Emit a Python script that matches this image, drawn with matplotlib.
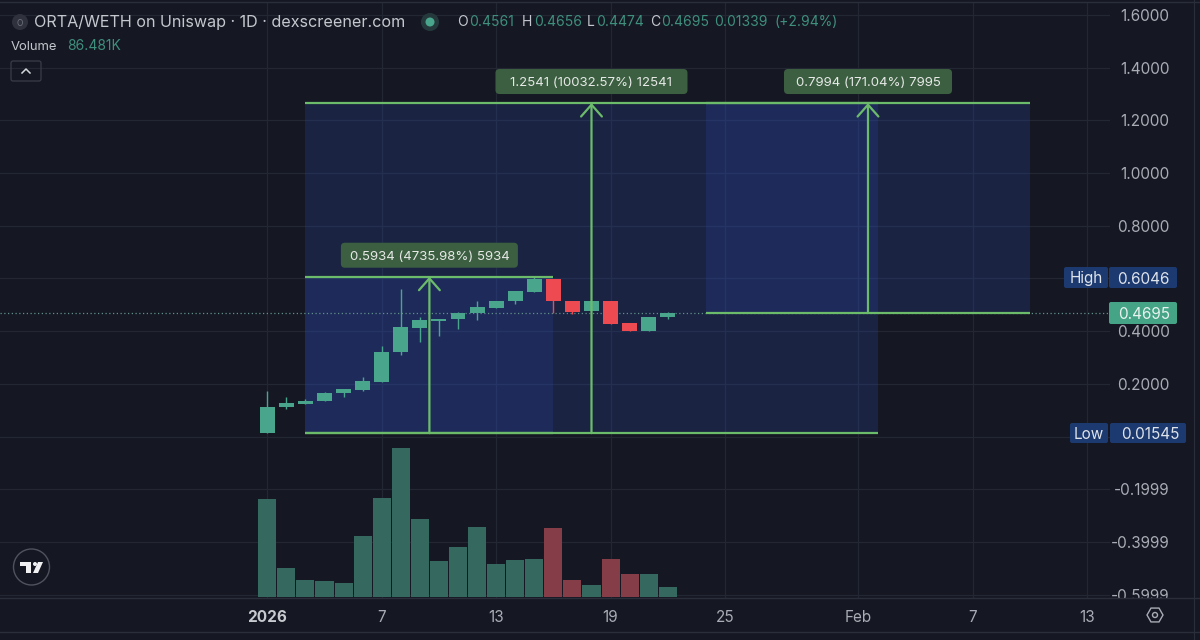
import matplotlib
matplotlib.use("Agg")
import numpy as np
import matplotlib.pyplot as plt
from matplotlib.patches import Circle, FancyBboxPatch, Polygon, RegularPolygon
from matplotlib.transforms import Affine2D, Bbox, IdentityTransform, TransformedBbox

plt.rcParams['font.family'] = ['Inter', 'DejaVu Sans']

# Velas diarias (dia 0 = 1 de enero de 2026)
dias = list(range(22))
aperturas = [0.0154, 0.1114, 0.1240, 0.1342, 0.1645, 0.1784, 0.2087, 0.3200, 0.4135, 0.4388, 0.4464,
             0.4679, 0.4894, 0.5134, 0.5488, 0.5993, 0.5146, 0.4755, 0.5134, 0.4300, 0.3996, 0.4540]
cierres = [0.1140, 0.1266, 0.1367, 0.1658, 0.1797, 0.2113, 0.3212, 0.4160, 0.4413, 0.4477, 0.4691,
           0.4919, 0.5146, 0.5513, 0.5993, 0.5134, 0.4742, 0.5134, 0.4287, 0.3996, 0.4540, 0.4695]
maximos = [0.1733, 0.1493, 0.1430, 0.1708, 0.1797, 0.2277, 0.3440, 0.5589, 0.4552, 0.4477, 0.4716,
           0.5159, 0.5146, 0.5513, 0.6046, 0.5993, 0.5146, 0.5134, 0.5134, 0.4300, 0.4540, 0.4716]
minimos = [0.0154, 0.1051, 0.1240, 0.1342, 0.1519, 0.1721, 0.2087, 0.3111, 0.3592, 0.3819, 0.4097,
           0.4426, 0.4894, 0.5033, 0.5488, 0.4679, 0.4641, 0.4755, 0.4287, 0.3996, 0.3996, 0.4464]
# Volumen en miles
volumen = [874, 259, 146, 140, 125, 540, 883, 1327, 698, 316, 447,
           620, 295, 328, 334, 614, 149, 107, 334, 206, 203, 86.481]
vol_rojo = [False] * 22
for i in [15, 16, 18, 19]:
    vol_rojo[i] = True

# Ejes (0.6 y 0.0 tienen linea pero su etiqueta queda tapada por High y Low)
ticks_precio = [1.6, 1.4, 1.2, 1.0, 0.8, 0.6, 0.4, 0.2, 0.0, -0.1999, -0.3999, -0.5999]
etiquetas_precio = ['1.6000', '1.4000', '1.2000', '1.0000', '0.8000', '', '0.4000', '0.2000', '',
                    '-0.1999', '-0.3999', '-0.5999']
ticks_dias = [0, 6, 12, 18, 24, 31, 37, 43]
etiquetas_dias = ['2026', '7', '13', '19', '25', 'Feb', '7', '13']

# Herramientas de medicion: (dia inicio, dia fin, precio base, precio tope, texto, ancho caja px)
medidas = [
    (2, 15, 0.0135, 0.6067, '0.5934 (4735.98%) 5934', 177),
    (2, 32, 0.0135, 1.2654, '1.2541 (10032.57%) 12541', 192),
    (23, 40, 0.4695, 1.2654, '0.7994 (171.04%) 7995', 168),
]
ultimo_precio = 0.4695

FONDO = '#151822'
GRID = '#232733'
BORDE = '#2a2e3a'
VERDE = '#49a68c'
ROJO = '#ee4a52'
VERDE_VOL = '#35695f'
ROJO_VOL = '#853e48'
LINEA = '#6cbb6b'
CAJA = '#3c5f41'
AZUL = '#1c3a70'
TEXTO = '#a9acb4'
VALOR = '#3f8f7d'

# Escala en pixeles de la imagen
PX_DIA = 19.07
X_CERO = 267.3
PX_PRECIO = 263.7
Y_CERO = 436.7
PX_VOL = 0.1118
AX_DER = 1110
AX_SUP = 2
AX_INF = 598

fig = plt.figure(figsize=(12, 6.4), dpi=100, facecolor=FONDO)
ax = fig.add_axes([0, (640 - AX_INF) / 640, AX_DER / 1200, (AX_INF - AX_SUP) / 640])
ax.set_facecolor(FONDO)

# Volumen con su propia escala (twinx cambia los ticks de ax, por eso va antes)
ax_vol = ax.twinx()
ax_vol.set_ylim(-1.3 / PX_VOL, (AX_INF - AX_SUP - 1.3) / PX_VOL)
ax_vol.axis('off')
colores_vol = [ROJO_VOL if r else VERDE_VOL for r in vol_rojo]
ax_vol.bar(dias, volumen, width=0.95, color=colores_vol, linewidth=0)

ax.set_xlim(-X_CERO / PX_DIA, (AX_DER - X_CERO) / PX_DIA)
ax.set_ylim((Y_CERO - AX_INF) / PX_PRECIO, (Y_CERO - AX_SUP) / PX_PRECIO)

for s in ax.spines.values():
    s.set_visible(False)
ax.grid(True, color=GRID, linewidth=0.9, zorder=0)
ax.set_axisbelow(True)
ax.yaxis.tick_right()
ax.set_yticks(ticks_precio)
ax.set_yticklabels(etiquetas_precio, ha='right')
ax.tick_params(axis='y', length=0, pad=43, labelsize=11, labelcolor=TEXTO)
ax.set_xticks(ticks_dias)
ax.set_xticklabels(etiquetas_dias)
ax.tick_params(axis='x', length=0, pad=9, labelsize=11, labelcolor=TEXTO)
ax.get_xticklabels()[0].set_fontweight('bold')
ax.get_xticklabels()[0].set_color('#c8cad0')

# La ultima etiqueta queda cortada por el eje de tiempo
recorte = TransformedBbox(Bbox([[0, (640 - AX_INF) / 640], [1, 1]]), fig.transFigure)
for lab in ax.get_yticklabels():
    lab.set_clip_box(recorte)
    lab.set_clip_on(True)

# Zonas azules
for d0, d1, base, tope, _, _ in medidas:
    ax.fill_between([d0, d1], base, tope, color='#2a46a5', alpha=0.25, linewidth=0, zorder=1)

# Linea del ultimo precio
ax.axhline(ultimo_precio, color='#5f8f88', linewidth=0.9, linestyle=(0, (1, 2)), zorder=2)

# Velas
colores = [VERDE if c >= a else ROJO for a, c in zip(aperturas, cierres)]
ax.vlines(dias, minimos, maximos, colors=colores, linewidth=1.0, zorder=3)
ax.bar(dias, np.array(cierres) - np.array(aperturas), bottom=aperturas, width=0.78,
       color=colores, linewidth=0, zorder=3)

# Medidas: lineas, flechas y cajas
for d0, d1, base, tope, texto, ancho in medidas:
    ax.plot([d0, d1], [tope, tope], color=LINEA, linewidth=1.6, zorder=4, solid_capstyle='butt')
    ax.plot([d0, d1], [base, base], color=LINEA, linewidth=1.6, zorder=4, solid_capstyle='butt')
    medio = (d0 + d1) / 2
    ax.annotate('', xy=(medio, tope), xytext=(medio, base), zorder=4,
                arrowprops=dict(arrowstyle='->,head_length=0.85,head_width=0.75', color=LINEA, lw=1.6,
                                mutation_scale=10, shrinkA=0, shrinkB=0))
    xc, yc = ax.transData.transform((medio, tope))
    fig.add_artist(FancyBboxPatch((xc - ancho / 2, yc + 9), ancho, 25, boxstyle='round,pad=0,rounding_size=4',
                                  fc=CAJA, ec='none', transform=IdentityTransform()))
    fig.text(xc, yc + 21.5, texto, transform=IdentityTransform(), ha='center', va='center_baseline',
             fontsize=9.5, color='#e6e9e6', zorder=5)

# Todo lo demas se coloca en pixeles de la imagen (y hacia abajo)
px = Affine2D().scale(1, -1).translate(0, 640)


def caja(x0, y0, x1, y1, color, redondeo=2):
    fig.add_artist(FancyBboxPatch((x0, y0), x1 - x0, y1 - y0, boxstyle=f'round,pad=0,rounding_size={redondeo}',
                                  fc=color, ec='none', transform=px))


def texto_px(x, y, s, color=TEXTO, size=11, ha='left', **kw):
    fig.text(x, y, s, transform=px, color=color, fontsize=size, ha=ha, va='center_baseline', zorder=5, **kw)


# Etiquetas del eje de precios
caja(1064, 267, 1108, 288, AZUL)
caja(1109, 267, 1177, 288, AZUL)
texto_px(1086, 277.5, 'High', '#dfe3ea', ha='center')
texto_px(1170, 277.5, '0.6046', '#dfe3ea', ha='right')
caja(1109, 302, 1177, 324, '#45a386')
texto_px(1170, 313, '0.4695', '#e8f2ee', ha='right')
caja(1070, 423, 1108, 443, AZUL)
caja(1110, 423, 1186, 443, AZUL)
texto_px(1089, 433, 'Low', '#dfe3ea', ha='center')
texto_px(1179, 433, '0.01545', '#dfe3ea', ha='right')

# Cabecera
fig.add_artist(Circle((20, 22), 8, fc='#2f323d', ec='none', transform=px))
texto_px(20, 22, 'O', '#70747f', size=6, ha='center')
texto_px(34, 21, 'ORTA/WETH on Uniswap · 1D · dexscreener.com', '#c4c7cd', size=11.6)
fig.add_artist(Circle((430, 22), 9, fc='#25393c', ec='none', transform=px))
fig.add_artist(Circle((430, 22), 4.5, fc=VERDE, ec='none', transform=px))
for x, letra in [(457, 'O'), (522, 'H'), (587, 'L'), (650, 'C')]:
    texto_px(x, 20, letra, '#c4c7cd', size=10)
for x, valor in [(469, '0.4561'), (534, '0.4656'), (596, '0.4474'), (661, '0.4695'),
                 (714, '0.01339'), (774, '(+2.94%)')]:
    texto_px(x, 20, valor, VALOR, size=10)
texto_px(11, 45, 'Volume', '#c4c7cd', size=9.4)
texto_px(67, 45, '86.481K', VALOR, size=10)

# Boton de plegar
fig.add_artist(FancyBboxPatch((11, 61), 30, 20, boxstyle='round,pad=0,rounding_size=2', fc='none',
                              ec='#3a3d48', lw=0.9, transform=px))
fig.add_artist(plt.Line2D([22, 26, 30], [73, 69, 73], color='#d5d7dc', lw=1.1, transform=px))

# Logo
fig.add_artist(Circle((31.5, 567), 18, fc=FONDO, ec='#50535e', lw=1.0, transform=px))
fig.add_artist(Polygon([(20, 562), (31, 562), (31, 573), (26, 573), (26, 566), (20, 566)], fc='#f0f0f2',
                       ec='none', transform=px))
fig.add_artist(Circle((35, 564), 2, fc='#f0f0f2', ec='none', transform=px))
fig.add_artist(Polygon([(38, 562), (43, 562), (38, 573), (33, 573)], fc='#f0f0f2', ec='none', transform=px))

# Icono de ajustes
fig.add_artist(RegularPolygon((1155, 615), 6, radius=8, orientation=np.pi / 2, fc='none', ec='#a9acb4',
                              lw=1.0, transform=px))
fig.add_artist(Circle((1155, 615), 2.5, fc='none', ec='#a9acb4', lw=1.0, transform=px))

# Separadores
for y in [2, 598, 632]:
    fig.add_artist(plt.Line2D([0, 1200], [y, y], color=BORDE, lw=1.0, transform=px))
fig.add_artist(plt.Line2D([1194, 1194], [0, 640], color=BORDE, lw=0.8, transform=px))

fig.savefig('out.png', dpi=100, facecolor=FONDO)
